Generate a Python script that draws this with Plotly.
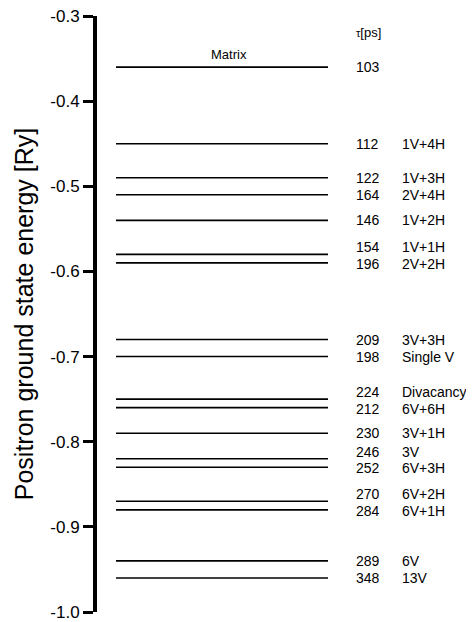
import plotly.graph_objects as go

# Data
energies = [-0.36, -0.45, -0.49, -0.51, -0.54, -0.58, -0.59, -0.68, -0.70,
            -0.75, -0.76, -0.79, -0.82, -0.83, -0.87, -0.88, -0.94, -0.96]
lifetimes = ["103", "112", "122", "164", "146", "154", "196", "209", "198",
             "224", "212", "230", "246", "252", "270", "284", "289", "348"]
defects = ["", "1V+4H", "1V+3H", "2V+4H", "1V+2H", "1V+1H", "2V+2H", "3V+3H", "Single V",
           "Divacancy", "6V+6H", "3V+1H", "3V", "6V+3H", "6V+2H", "6V+1H", "6V", "13V"]
matrix_label = "Matrix"
y_ticks = [-1.0, -0.9, -0.8, -0.7, -0.6, -0.5, -0.4, -0.3]

FONT = "Arial, 'Liberation Sans', Helvetica, sans-serif"

# horizontal level lines (x in pixel-like data units)
X0, X1 = 19, 231
XNUM, XNAME = 257, 303
xs, ys = [], []
for e in energies:
    xs += [X0, X1, None]
    ys += [e, e, None]

fig = go.Figure()
fig.add_trace(go.Scatter(x=xs, y=ys, mode="lines",
                         line=dict(color="black", width=1.6),
                         hoverinfo="skip", showlegend=False))

annotations = []
n = len(energies)
for i, (e, t, d) in enumerate(zip(energies, lifetimes, defects)):
    shift = 0
    if i + 1 < n and abs(energies[i + 1] - e) < 0.0151:
        shift = 7
    elif i > 0 and abs(energies[i - 1] - e) < 0.0151:
        shift = -1
    annotations.append(dict(x=XNUM, y=e, xref="x", yref="y", text=t, showarrow=False,
                            xanchor="left", yanchor="middle", yshift=shift,
                            font=dict(family=FONT, size=14, color="black")))
    if d:
        annotations.append(dict(x=XNAME, y=e, xref="x", yref="y", text=d, showarrow=False,
                                xanchor="left", yanchor="middle", yshift=shift,
                                font=dict(family=FONT, size=14, color="black")))

annotations.append(dict(x=(X0 + X1) / 2 + 7, y=energies[0], xref="x", yref="y",
                        text=matrix_label, showarrow=False, xanchor="center",
                        yanchor="bottom", yshift=3,
                        font=dict(family=FONT, size=13, color="black")))
annotations.append(dict(x=XNUM, y=-0.3, xref="x", yref="y",
                        text="<span style='font-size:11px'>τ</span>[ps]",
                        showarrow=False, xanchor="left", yanchor="middle", yshift=-16,
                        font=dict(family=FONT, size=13, color="black")))

fig.update_layout(
    width=466, height=614,
    margin=dict(l=89, r=0, t=8, b=10),
    paper_bgcolor="white", plot_bgcolor="white",
    annotations=annotations,
    xaxis=dict(range=[0, 377], visible=False, fixedrange=True),
    yaxis=dict(range=[-1.0, -0.3], tickvals=y_ticks,
               ticktext=[f"{v:.1f}" for v in y_ticks],
               ticklabeloverflow="allow",
               showline=True, linewidth=4, linecolor="black",
               ticks="outside", ticklen=10, tickwidth=3, tickcolor="black",
               showgrid=False, zeroline=False,
               tickfont=dict(family=FONT, size=17, color="black"),
               title=dict(text="Positron ground state energy [Ry]",
                          font=dict(family=FONT, size=25, color="black"),
                          standoff=11)),
)

fig.write_html("out.html")
